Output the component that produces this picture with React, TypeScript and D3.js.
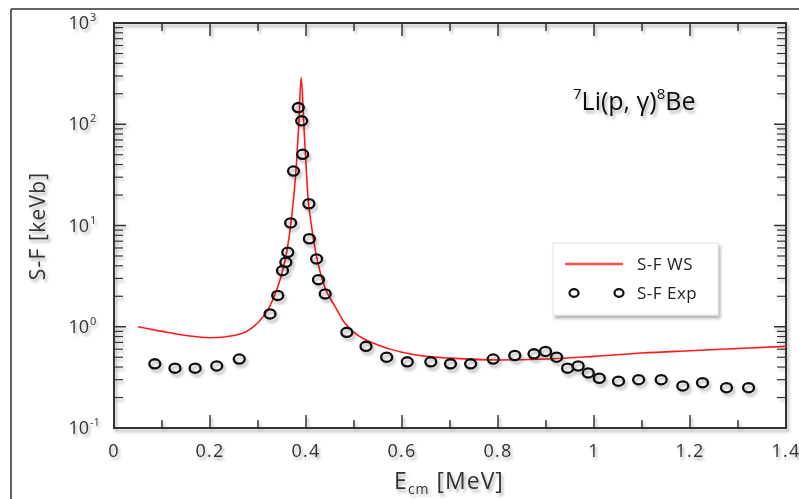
import React from "react";
import * as d3 from "d3";

const curveE = [0.05, 0.1, 0.15, 0.2, 0.25, 0.28, 0.3, 0.32, 0.34, 0.35, 0.36, 0.37, 0.38, 0.385, 0.39, 0.395, 0.4, 0.405, 0.41, 0.42, 0.43, 0.44, 0.46, 0.48, 0.5, 0.55, 0.6, 0.65, 0.7, 0.8, 0.9, 1.0, 1.1, 1.2, 1.3, 1.4];
const curveS = [1.0, 0.9, 0.82, 0.78, 0.82, 0.92, 1.1, 1.45, 2.4, 3.4, 5.5, 12, 40, 100, 290, 110, 40, 17, 11, 5.5, 3.4, 2.4, 1.6, 1.1, 0.88, 0.66, 0.56, 0.51, 0.49, 0.47, 0.48, 0.51, 0.55, 0.58, 0.61, 0.64];

const expE = [0.085, 0.127, 0.169, 0.214, 0.261, 0.325, 0.341, 0.351, 0.358, 0.362, 0.368, 0.374, 0.384, 0.391, 0.393, 0.406, 0.407, 0.422, 0.426, 0.44, 0.485, 0.525, 0.568, 0.611, 0.66, 0.701, 0.743, 0.79, 0.835, 0.875, 0.899, 0.922, 0.945, 0.967, 0.988, 1.011, 1.051, 1.093, 1.14, 1.185, 1.226, 1.276, 1.322];
const expS = [0.43, 0.39, 0.39, 0.41, 0.48, 1.34, 2.04, 3.58, 4.33, 5.44, 10.6, 34.5, 146, 108, 50.5, 16.4, 7.4, 4.68, 2.92, 2.11, 0.88, 0.64, 0.5, 0.45, 0.45, 0.43, 0.43, 0.48, 0.52, 0.54, 0.57, 0.5, 0.39, 0.41, 0.35, 0.31, 0.29, 0.3, 0.3, 0.26, 0.28, 0.25, 0.25];

const xTickLabels = ["0", "0.2", "0.4", "0.6", "0.8", "1", "1.2", "1.4"];
const xTickValues = [0, 0.2, 0.4, 0.6, 0.8, 1.0, 1.2, 1.4];
const yExponents = [-1, 0, 1, 2, 3];

const FONT = "'Open Sans', 'Liberation Sans', sans-serif";
const INK = "#333";

export default function App() {
  const x = d3.scaleLinear().domain([0, 1.4]).range([114, 786]);
  const y = d3.scaleLog().domain([0.1, 1000]).range([428, 23]);
  const [x0, x1] = x.range();
  const [y0, y1] = y.range();

  const line = d3
    .line<number>()
    .x((_, i) => x(curveE[i]))
    .y((_, i) => y(curveS[i]))
    .curve(d3.curveMonotoneX);

  const minorX = d3.range(1, 14, 2).map((k) => k / 10);
  const minorY: number[] = [];
  for (let d = -1; d <= 2; d++) for (let k = 2; k <= 9; k++) minorY.push(k * Math.pow(10, d));

  const majLenX = 13, minLenX = 8, majLenY = 12, minLenY = 9;

  return (
    <svg width={799} height={499} style={{ position: "absolute", left: 0, top: 0, background: "#fff" }} fontFamily={FONT}>
      <defs>
        <filter id="sh" x="-20%" y="-20%" width="140%" height="140%">
          <feDropShadow dx="2" dy="3" stdDeviation="1.6" floodColor="#000" floodOpacity="0.3" />
        </filter>
      </defs>
      {/* outer frame */}
      <line x1={11} y1={9} x2={799} y2={9} stroke={INK} strokeWidth={1.5} />
      <line x1={11} y1={9} x2={11} y2={499} stroke={INK} strokeWidth={1.5} />

      <g filter="url(#sh)">
        {/* axes frame */}
        <rect x={x0} y={y1} width={x1 - x0} height={y0 - y1} fill="none" stroke={INK} strokeWidth={2} />
        {/* x ticks */}
        {xTickValues.map((v) => (
          <g key={"xt" + v}>
            <line x1={x(v)} x2={x(v)} y1={y0} y2={y0 - majLenX} stroke={INK} strokeWidth={1.5} />
            <line x1={x(v)} x2={x(v)} y1={y1} y2={y1 + majLenX} stroke={INK} strokeWidth={1.5} />
          </g>
        ))}
        {minorX.map((v) => (
          <g key={"xm" + v}>
            <line x1={x(v)} x2={x(v)} y1={y0} y2={y0 - minLenX} stroke={INK} strokeWidth={1.5} />
            <line x1={x(v)} x2={x(v)} y1={y1} y2={y1 + minLenX} stroke={INK} strokeWidth={1.5} />
          </g>
        ))}
        {/* y ticks */}
        {yExponents.map((e) => (
          <g key={"yt" + e}>
            <line x1={x0} x2={x0 + majLenY} y1={y(Math.pow(10, e))} y2={y(Math.pow(10, e))} stroke={INK} strokeWidth={1.5} />
            <line x1={x1} x2={x1 - majLenY} y1={y(Math.pow(10, e))} y2={y(Math.pow(10, e))} stroke={INK} strokeWidth={1.5} />
          </g>
        ))}
        {minorY.map((v) => (
          <g key={"ym" + v}>
            <line x1={x0} x2={x0 + minLenY} y1={y(v)} y2={y(v)} stroke={INK} strokeWidth={1.2} />
            <line x1={x1} x2={x1 - minLenY} y1={y(v)} y2={y(v)} stroke={INK} strokeWidth={1.2} />
          </g>
        ))}

        {/* x tick labels */}
        {xTickValues.map((v, i) => (
          <text key={"xl" + v} x={x(v)} y={457} textAnchor="middle" fontSize={18} fill={INK} letterSpacing={1.2}>
            {xTickLabels[i]}
          </text>
        ))}
        {/* y tick labels */}
        {yExponents.map((e) => (
          <text key={"yl" + e} x={89} y={y(Math.pow(10, e)) + 6} textAnchor="end" fontSize={18} fill={INK}>
            10
            <tspan x={90} textAnchor="start" dy={-8} fontSize={11}>{String(e)}</tspan>
          </text>
        ))}

        {/* axis titles */}
        <text x={449} y={489} textAnchor="middle" fontSize={23} fill={INK} letterSpacing={1}>
          E<tspan fontSize={14} dy={5}>cm</tspan>
          <tspan dy={-5}> [MeV]</tspan>
        </text>
        <text transform="translate(45,226) rotate(-90)" textAnchor="middle" fontSize={21} fill={INK} letterSpacing={1.2}>
          S-F [keVb]
        </text>

        {/* title */}
        <text x={573} y={110} fontSize={25} fill="#111">
          <tspan fontSize={15} dy={-11}>7</tspan>
          <tspan dy={11}>Li(p, γ)</tspan>
          <tspan fontSize={15} dy={-11}>8</tspan>
          <tspan dy={11}>Be</tspan>
        </text>
      </g>

      {/* theory curve */}
      <path d={line(curveE) || ""} fill="none" stroke="#ff1a1a" strokeWidth={1.6} />

      {/* experimental points */}
      <g filter="url(#sh)">
        {expE.map((e, i) => (
          <ellipse key={"p" + i} cx={x(e)} cy={y(expS[i])} rx={5.5} ry={4.6} fill="none" stroke="#111" strokeWidth={2.3} />
        ))}
      </g>

      {/* legend */}
      <g>
        <rect x={553} y={243} width={165} height={72} fill="#fff" stroke="#e4e4e4" filter="url(#sh)" />
        <line x1={565} x2={623} y1={264} y2={264} stroke="#ff5050" strokeWidth={2.5} />
        <text x={637} y={270} fontSize={17} fill="#222" letterSpacing={0.5}>S-F WS</text>
        <ellipse cx={574} cy={293} rx={4.5} ry={3.8} fill="none" stroke="#111" strokeWidth={2.2} />
        <ellipse cx={619} cy={293} rx={4.5} ry={3.8} fill="none" stroke="#111" strokeWidth={2.2} />
        <text x={637} y={299} fontSize={17} fill="#222" letterSpacing={0.5}>S-F Exp</text>
      </g>
    </svg>
  );
}
